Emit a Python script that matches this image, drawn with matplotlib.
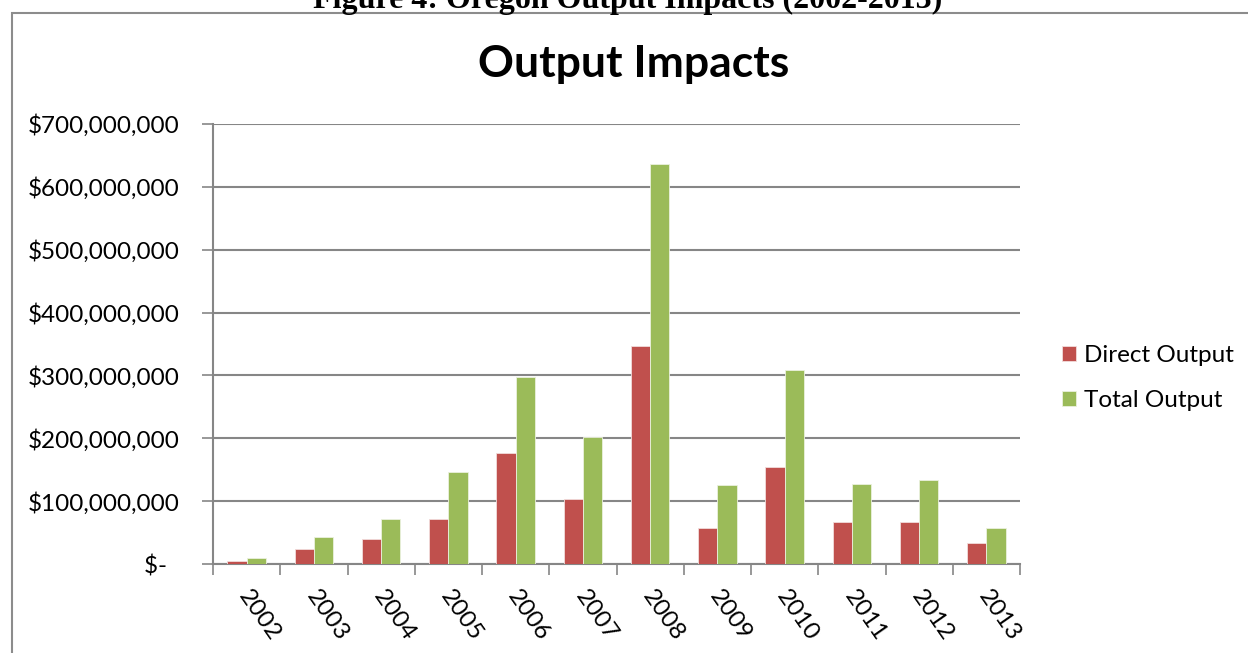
import numpy as np
import matplotlib.pyplot as plt
from matplotlib.patches import Rectangle
from matplotlib.ticker import FuncFormatter
import matplotlib.transforms as mtransforms

plt.rcParams['font.family'] = ['Lato', 'DejaVu Sans']

# values (dollars)
years = ['2002', '2003', '2004', '2005', '2006', '2007',
         '2008', '2009', '2010', '2011', '2012', '2013']
direct_output = [5e6, 24e6, 39e6, 72e6, 177e6, 104e6,
                 347e6, 58e6, 154e6, 67e6, 67e6, 33e6]
total_output = [9e6, 43e6, 71e6, 147e6, 298e6, 202e6,
                637e6, 126e6, 308e6, 127e6, 134e6, 57e6]

red = '#C0504D'
green = '#9BBB59'
grid_col = '#868686'
fs = 17.5

fig = plt.figure(figsize=(12.48, 6.53), dpi=100)
ax = fig.add_axes([213 / 1248, 1 - 564 / 653, (1020 - 213) / 1248, (564 - 124) / 653])

x = np.arange(len(years))
w = 0.285
ax.bar(x - w / 2, direct_output, w, color=red, edgecolor='#f2dcdb', linewidth=0.6,
       label='Direct Output', zorder=3)
ax.bar(x + w / 2, total_output, w, color=green, edgecolor='#ebf1de', linewidth=0.6,
       label='Total Output', zorder=3)

ax.set_xlim(-0.5, len(years) - 0.5)
ax.set_ylim(0, 700e6)
ax.set_yticks(np.arange(0, 701e6, 100e6))


def money(v, pos):
    if v == 0:
        return '$-  '
    return '${:,.0f}'.format(v)


ax.yaxis.set_major_formatter(FuncFormatter(money))
ax.yaxis.grid(True, color=grid_col, linewidth=1.5, zorder=0)
ax.tick_params(axis='y', length=8, width=1.2, color=grid_col, labelsize=fs, pad=16)

# x ticks sit between categories, labels centered under groups
ax.set_xticks(np.arange(-0.5, len(years), 1.0))
ax.set_xticklabels([])
ax.tick_params(axis='x', length=8, width=1.2, color=grid_col)
ax.set_xticks(x, minor=True)
ax.set_xticklabels(years, minor=True, rotation=-55, rotation_mode='anchor',
                   ha='left', va='center', fontsize=fs)
ax.tick_params(axis='x', which='minor', length=0, pad=20.5)
shift = mtransforms.ScaledTranslation(-3 / 100, 0, fig.dpi_scale_trans)
for lbl in ax.get_xticklabels(minor=True):
    lbl.set_transform(lbl.get_transform() + shift)

for s in ['top', 'right']:
    ax.spines[s].set_visible(False)
for s in ['left', 'bottom']:
    ax.spines[s].set_color(grid_col)
    ax.spines[s].set_linewidth(1.5)

fig.text(634 / 1248, 1 - 77 / 653, 'Output Impacts', ha='center', va='baseline',
         fontsize=32, fontweight='bold')

ax.legend(loc='center left', bbox_to_anchor=(1040 / 1248, 1 - 378 / 653),
          bbox_transform=fig.transFigure, frameon=False, fontsize=fs,
          handlelength=0.6, handleheight=0.6, handletextpad=0.3, labelspacing=1.0)

# caption clipped at the top of the page
fig.text(628 / 1248, 1 - 8 / 653, 'Figure 4: Oregon Output Impacts (2002-2013)',
         ha='center', va='baseline', fontsize=23, fontweight='bold',
         family='Liberation Serif')

# chart frame
fig.patches.append(Rectangle((12 / 1248, -0.1), 1.2, 1.1 - 13 / 653,
                             transform=fig.transFigure, fill=False,
                             edgecolor='#8c8c8c', linewidth=1.5))

fig.savefig('out.png', dpi=100)
